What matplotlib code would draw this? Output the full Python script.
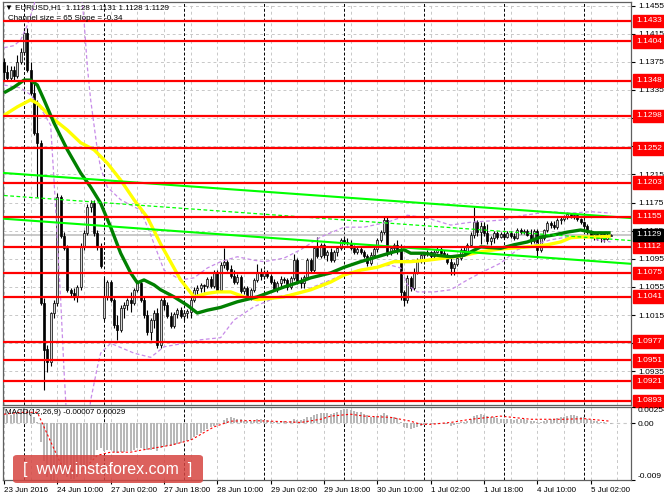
import matplotlib
matplotlib.use('Agg')
import matplotlib.pyplot as plt
import matplotlib.transforms as mtransforms
from matplotlib.patches import FancyBboxPatch
import numpy as np

plt.rcParams['font.family'] = ['Liberation Sans', 'DejaVu Sans']

# EURUSD H1, 23 Jun 2016 18:00 .. 5 Jul 2016 08:00 (one entry per bar)
opens = [1.1375, 1.1361, 1.1352, 1.1363, 1.1355, 1.1375, 1.1389, 1.1416, 1.1363, 1.1331,
         1.1274, 1.1260, 1.1032, 1.0966, 1.0948, 1.1018, 1.1032, 1.1183, 1.1127, 1.1110,
         1.1051, 1.1046, 1.1042, 1.1055, 1.1112, 1.1132, 1.1169, 1.1174, 1.1132, 1.1112,
         1.1011, 1.1041, 1.1062, 1.1037, 1.1001, 1.0994, 1.1025, 1.1029, 1.1037, 1.1032,
         1.1051, 1.1061, 1.1037, 1.1015, 1.0991, 1.1008, 1.1018, 1.0973, 1.1037, 1.1029,
         1.1014, 1.1000, 1.1017, 1.1022, 1.1014, 1.1018, 1.1020, 1.1037, 1.1051, 1.1054,
         1.1058, 1.1056, 1.1066, 1.1056, 1.1075, 1.1051, 1.1086, 1.1091, 1.1081, 1.1071,
         1.1062, 1.1069, 1.1049, 1.1054, 1.1041, 1.1051, 1.1065, 1.1076, 1.1071, 1.1075,
         1.1071, 1.1062, 1.1052, 1.1061, 1.1066, 1.1065, 1.1055, 1.1068, 1.1093, 1.1064,
         1.1061, 1.1069, 1.1093, 1.1079, 1.1110, 1.1099, 1.1115, 1.1100, 1.1105, 1.1093,
         1.1105, 1.1110, 1.1122, 1.1119, 1.1118, 1.1110, 1.1105, 1.1109, 1.1105, 1.1099,
         1.1089, 1.1100, 1.1109, 1.1122, 1.1133, 1.1150, 1.1105, 1.1110, 1.1115, 1.1108,
         1.1048, 1.1037, 1.1068, 1.1054, 1.1076, 1.1092, 1.1100, 1.1102, 1.1105, 1.1099,
         1.1105, 1.1109, 1.1103, 1.1099, 1.1091, 1.1082, 1.1088, 1.1096, 1.1108, 1.1105,
         1.1115, 1.1129, 1.1147, 1.1133, 1.1142, 1.1132, 1.1120, 1.1125, 1.1132, 1.1126,
         1.1130, 1.1126, 1.1132, 1.1127, 1.1125, 1.1136, 1.1133, 1.1135, 1.1129, 1.1120,
         1.1135, 1.1108, 1.1125, 1.1136, 1.1146, 1.1143, 1.1140, 1.1150, 1.1152, 1.1154,
         1.1159, 1.1156, 1.1157, 1.1152, 1.1147, 1.1142, 1.1133, 1.1127, 1.1130, 1.1125,
         1.1130, 1.1123, 1.1128]
highs = [1.1380, 1.1370, 1.1369, 1.1369, 1.1385, 1.1395, 1.1423, 1.1423, 1.1375, 1.1346,
         1.1321, 1.1264, 1.1039, 1.0973, 1.1020, 1.1037, 1.1189, 1.1186, 1.1133, 1.1115,
         1.1054, 1.1054, 1.1058, 1.1118, 1.1136, 1.1173, 1.1179, 1.1179, 1.1136, 1.1118,
         1.1068, 1.1065, 1.1065, 1.1039, 1.1015, 1.1029, 1.1034, 1.1039, 1.1048, 1.1054,
         1.1065, 1.1064, 1.1042, 1.1022, 1.1011, 1.1022, 1.1025, 1.1039, 1.1042, 1.1034,
         1.1020, 1.1020, 1.1025, 1.1026, 1.1022, 1.1024, 1.1041, 1.1055, 1.1058, 1.1061,
         1.1059, 1.1069, 1.1071, 1.1079, 1.1079, 1.1091, 1.1110, 1.1093, 1.1086, 1.1079,
         1.1073, 1.1072, 1.1056, 1.1056, 1.1054, 1.1068, 1.1088, 1.1082, 1.1079, 1.1079,
         1.1073, 1.1066, 1.1064, 1.1071, 1.1069, 1.1068, 1.1071, 1.1102, 1.1096, 1.1069,
         1.1072, 1.1096, 1.1096, 1.1113, 1.1126, 1.1118, 1.1118, 1.1108, 1.1110, 1.1108,
         1.1113, 1.1125, 1.1127, 1.1125, 1.1122, 1.1115, 1.1112, 1.1113, 1.1108, 1.1102,
         1.1105, 1.1113, 1.1125, 1.1136, 1.1154, 1.1154, 1.1113, 1.1118, 1.1122, 1.1116,
         1.1051, 1.1072, 1.1071, 1.1082, 1.1096, 1.1105, 1.1105, 1.1108, 1.1106, 1.1108,
         1.1112, 1.1112, 1.1108, 1.1103, 1.1096, 1.1091, 1.1100, 1.1110, 1.1113, 1.1118,
         1.1133, 1.1169, 1.1150, 1.1147, 1.1147, 1.1145, 1.1127, 1.1135, 1.1135, 1.1133,
         1.1133, 1.1135, 1.1135, 1.1132, 1.1139, 1.1139, 1.1137, 1.1137, 1.1137, 1.1137,
         1.1137, 1.1127, 1.1137, 1.1149, 1.1149, 1.1149, 1.1153, 1.1154, 1.1157, 1.1162,
         1.1160, 1.1160, 1.1159, 1.1153, 1.1149, 1.1145, 1.1136, 1.1133, 1.1133, 1.1132,
         1.1133, 1.1132, 1.1131]
lows = [1.1349, 1.1348, 1.1349, 1.1349, 1.1352, 1.1372, 1.1385, 1.1361, 1.1328, 1.1271,
        1.1183, 1.1029, 1.0909, 1.0934, 1.0943, 1.1011, 1.1028, 1.1125, 1.1108, 1.1048,
        1.1041, 1.1037, 1.1034, 1.1051, 1.1108, 1.1129, 1.1162, 1.1127, 1.1108, 1.1082,
        1.1008, 1.1037, 1.1034, 1.0997, 1.0980, 1.0991, 1.1011, 1.1022, 1.1020, 1.1029,
        1.1048, 1.1034, 1.1011, 1.0987, 1.0980, 1.0997, 1.0968, 1.0968, 1.1022, 1.1011,
        1.0997, 1.0997, 1.1011, 1.1011, 1.1008, 1.1011, 1.1011, 1.1034, 1.1042, 1.1048,
        1.1048, 1.1054, 1.1054, 1.1054, 1.1048, 1.1048, 1.1082, 1.1078, 1.1068, 1.1059,
        1.1059, 1.1046, 1.1045, 1.1038, 1.1037, 1.1048, 1.1062, 1.1065, 1.1066, 1.1068,
        1.1059, 1.1049, 1.1048, 1.1054, 1.1061, 1.1051, 1.1052, 1.1065, 1.1059, 1.1054,
        1.1054, 1.1066, 1.1076, 1.1076, 1.1096, 1.1096, 1.1096, 1.1092, 1.1091, 1.1091,
        1.1099, 1.1108, 1.1116, 1.1115, 1.1108, 1.1102, 1.1102, 1.1102, 1.1096, 1.1085,
        1.1086, 1.1098, 1.1105, 1.1119, 1.1130, 1.1099, 1.1100, 1.1105, 1.1102, 1.1037,
        1.1028, 1.1032, 1.1049, 1.1051, 1.1073, 1.1089, 1.1096, 1.1099, 1.1096, 1.1096,
        1.1103, 1.1099, 1.1096, 1.1088, 1.1072, 1.1072, 1.1085, 1.1093, 1.1100, 1.1102,
        1.1112, 1.1125, 1.1127, 1.1116, 1.1127, 1.1116, 1.1115, 1.1118, 1.1123, 1.1125,
        1.1123, 1.1125, 1.1125, 1.1122, 1.1123, 1.1130, 1.1130, 1.1127, 1.1116, 1.1118,
        1.1096, 1.1105, 1.1122, 1.1133, 1.1139, 1.1137, 1.1137, 1.1145, 1.1149, 1.1152,
        1.1153, 1.1152, 1.1149, 1.1145, 1.1139, 1.1130, 1.1125, 1.1122, 1.1122, 1.1119,
        1.1119, 1.1122, 1.1128]
closes = [1.1361, 1.1352, 1.1363, 1.1355, 1.1375, 1.1389, 1.1416, 1.1363, 1.1331, 1.1274,
          1.1260, 1.1032, 1.0966, 1.0948, 1.1018, 1.1032, 1.1183, 1.1127, 1.1110, 1.1051,
          1.1046, 1.1042, 1.1055, 1.1112, 1.1132, 1.1169, 1.1174, 1.1132, 1.1112, 1.1085,
          1.1041, 1.1062, 1.1037, 1.1001, 1.0994, 1.1025, 1.1029, 1.1037, 1.1032, 1.1051,
          1.1061, 1.1037, 1.1015, 1.0991, 1.1008, 1.1018, 1.0973, 1.1037, 1.1029, 1.1014,
          1.1000, 1.1017, 1.1022, 1.1014, 1.1018, 1.1020, 1.1037, 1.1051, 1.1054, 1.1058,
          1.1056, 1.1066, 1.1056, 1.1075, 1.1051, 1.1086, 1.1091, 1.1081, 1.1071, 1.1062,
          1.1069, 1.1049, 1.1054, 1.1041, 1.1051, 1.1065, 1.1076, 1.1071, 1.1075, 1.1071,
          1.1062, 1.1052, 1.1061, 1.1066, 1.1065, 1.1055, 1.1068, 1.1093, 1.1064, 1.1061,
          1.1069, 1.1093, 1.1079, 1.1110, 1.1099, 1.1115, 1.1100, 1.1105, 1.1093, 1.1105,
          1.1110, 1.1122, 1.1119, 1.1118, 1.1110, 1.1105, 1.1109, 1.1105, 1.1099, 1.1089,
          1.1100, 1.1109, 1.1122, 1.1133, 1.1150, 1.1105, 1.1110, 1.1115, 1.1108, 1.1048,
          1.1037, 1.1068, 1.1054, 1.1076, 1.1092, 1.1100, 1.1102, 1.1105, 1.1099, 1.1105,
          1.1109, 1.1103, 1.1099, 1.1091, 1.1082, 1.1088, 1.1096, 1.1108, 1.1105, 1.1115,
          1.1129, 1.1147, 1.1133, 1.1142, 1.1132, 1.1120, 1.1125, 1.1132, 1.1126, 1.1130,
          1.1126, 1.1132, 1.1127, 1.1125, 1.1136, 1.1133, 1.1135, 1.1129, 1.1120, 1.1135,
          1.1108, 1.1125, 1.1136, 1.1146, 1.1143, 1.1140, 1.1150, 1.1152, 1.1154, 1.1159,
          1.1156, 1.1157, 1.1152, 1.1147, 1.1142, 1.1133, 1.1127, 1.1130, 1.1125, 1.1130,
          1.1123, 1.1129, 1.1129]

# moving averages (bar index, price)
green_bars = [0, 3, 6, 8, 10, 12, 15, 19, 23, 26, 29, 32, 35, 38, 40, 42, 45, 47, 51, 55,
              58, 61, 65, 70, 76, 80, 84, 88, 92, 98, 102, 107, 112, 117, 120, 122, 126, 130,
              134, 138, 143, 149, 153, 157, 161, 165, 169, 173, 177, 182]
green_vals = [1.1331, 1.1339, 1.1349, 1.1349, 1.1342, 1.1321, 1.1288, 1.1250, 1.1217, 1.1197,
              1.1174, 1.1140, 1.1103, 1.1075, 1.1061, 1.1065, 1.1058, 1.1051, 1.1041, 1.1029,
              1.1018, 1.1022, 1.1026, 1.1034, 1.1041, 1.1048, 1.1055, 1.1061, 1.1068, 1.1075,
              1.1083, 1.1091, 1.1098, 1.1105, 1.1108, 1.1103, 1.1103, 1.1100, 1.1098, 1.1100,
              1.1112, 1.1110, 1.1115, 1.1119, 1.1126, 1.1129, 1.1133, 1.1136, 1.1132, 1.1132]
yellow_bars = [0, 4, 8, 10, 14, 19, 23, 27, 31, 35, 39, 43, 47, 53, 57, 61, 64, 68, 72, 76,
               80, 84, 88, 92, 98, 102, 107, 112, 117, 122, 127, 132, 138, 143, 149, 157, 163,
               167, 170, 173, 177, 182]
yellow_vals = [1.1299, 1.1311, 1.1321, 1.1316, 1.1297, 1.1278, 1.1260, 1.1250, 1.1231, 1.1207,
               1.1179, 1.1154, 1.1116, 1.1065, 1.1041, 1.1046, 1.1048, 1.1048, 1.1041, 1.1037,
               1.1039, 1.1041, 1.1046, 1.1051, 1.1062, 1.1072, 1.1079, 1.1083, 1.1091, 1.1091,
               1.1093, 1.1096, 1.1100, 1.1105, 1.1109, 1.1112, 1.1115, 1.1119, 1.1125, 1.1126,
               1.1126, 1.1127]

# envelope bands (purple dotted)
ub_bars = [0, 3, 5, 7, 9, 10, 23, 24, 25, 26, 28, 29, 31, 35, 41, 44, 48, 53, 57, 61,
           65, 70, 75, 78, 84, 89, 95, 102, 108, 115, 121, 127, 134, 140, 149, 156, 164, 170,
           176, 182]
ub_vals = [1.1395, 1.1398, 1.1406, 1.1427, 1.1455, 1.1480, 1.1480, 1.1434, 1.1368, 1.1321,
           1.1250, 1.1224, 1.1197, 1.1179, 1.1164, 1.1129, 1.1079, 1.1065, 1.1068, 1.1082,
           1.1091, 1.1098, 1.1093, 1.1091, 1.1096, 1.1108, 1.1126, 1.1140, 1.1140, 1.1147,
           1.1157, 1.1153, 1.1143, 1.1147, 1.1150, 1.1157, 1.1162, 1.1160, 1.1162, 1.1160]
lb_bars = [0, 5, 8, 11, 14, 15, 17, 18, 19, 25, 26, 28, 29, 32, 39, 44, 48, 54, 59, 65,
           69, 75, 82, 88, 98, 103, 110, 116, 119, 121, 124, 129, 134, 139, 143, 149, 154,
           159, 164, 169, 175, 178, 182]
lb_vals = [1.1342, 1.1338, 1.1328, 1.1309, 1.1285, 1.1207, 1.1037, 1.0937, 1.0850, 1.0850,
           1.0894, 1.0941, 1.0961, 1.0975, 1.0961, 1.0955, 1.0970, 1.0975, 1.0980, 1.0983,
           1.1008, 1.1027, 1.1041, 1.1046, 1.1065, 1.1075, 1.1083, 1.1086, 1.1082, 1.1058,
           1.1048, 1.1048, 1.1051, 1.1065, 1.1075, 1.1089, 1.1108, 1.1115, 1.1122, 1.1126,
           1.1127, 1.1122, 1.1119]

# regression channel (two anchor points)
chan_bars = [0, 188]
chan_upper = [1.1217, 1.1153]
chan_mid = [1.1185, 1.1121]
chan_lower = [1.1152, 1.1088]

levels = [1.1433, 1.1404, 1.1348, 1.1298, 1.1252, 1.1203, 1.1155, 1.1112,
          1.1075, 1.1041, 1.0977, 1.0951, 1.0921, 1.0893]
bid = 1.1129
price_ticks = [1.0935, 1.0975, 1.1015, 1.1055, 1.1095, 1.1135, 1.1175,
               1.1215, 1.1255, 1.1295, 1.1335, 1.1375, 1.1415, 1.1455]

# MACD(12,26,9)
macd_main = [0.0012, 0.0014, 0.0013, 0.0015, 0.0017, 0.0020, 0.0024, 0.0022, 0.0018, 0.0010,
             0.0002, -0.0030, -0.0060, -0.0085, -0.0090, -0.0090, -0.0080, -0.0080, -0.0082, -0.0085,
             -0.0088, -0.0088, -0.0085, -0.0078, -0.0070, -0.0064, -0.0058, -0.0053, -0.0042, -0.0040,
             -0.0044, -0.0042, -0.0043, -0.0046, -0.0048, -0.0046, -0.0045, -0.0044, -0.0044, -0.0042,
             -0.0040, -0.0040, -0.0041, -0.0043, -0.0042, -0.0041, -0.0044, -0.0040, -0.0038, -0.0037,
             -0.0037, -0.0035, -0.0033, -0.0032, -0.0030, -0.0029, -0.0026, -0.0022, -0.0019, -0.0016,
             -0.0013, -0.0009, -0.0007, -0.0004, -0.0003, 0.0000, 0.0005, 0.0008, 0.0009, 0.0008,
             0.0007, 0.0006, 0.0004, 0.0003, 0.0003, 0.0004, 0.0006, 0.0006, 0.0005, 0.0005,
             0.0004, 0.0002, 0.0002, 0.0003, 0.0003, 0.0002, 0.0003, 0.0007, 0.0005, 0.0005,
             0.0006, 0.0009, 0.0009, 0.0013, 0.0014, 0.0016, 0.0016, 0.0016, 0.0015, 0.0016,
             0.0018, 0.0021, 0.0022, 0.0022, 0.0021, 0.0019, 0.0018, 0.0017, 0.0015, 0.0012,
             0.0010, 0.0010, 0.0011, 0.0013, 0.0016, 0.0012, 0.0010, 0.0009, 0.0008, 0.0002,
             -0.0006, -0.0008, -0.0009, -0.0008, -0.0006, -0.0004, -0.0003, -0.0002, -0.0002, -0.0001,
             0.0000, 0.0000, -0.0001, -0.0002, -0.0004, -0.0003, -0.0001, 0.0001, 0.0002, 0.0004,
             0.0007, 0.0011, 0.0012, 0.0014, 0.0013, 0.0011, 0.0010, 0.0009, 0.0008, 0.0007,
             0.0006, 0.0006, 0.0006, 0.0005, 0.0006, 0.0006, 0.0006, 0.0005, 0.0004, 0.0004,
             0.0002, 0.0002, 0.0003, 0.0005, 0.0006, 0.0006, 0.0008, 0.0009, 0.0010, 0.0011,
             0.0012, 0.0012, 0.0011, 0.0010, 0.0009, 0.0007, 0.0005, 0.0004, 0.0003, 0.0002,
             0.0001, 0.0000, -0.00007]
sig_bars = [0, 5, 10, 17, 22, 26, 28, 32, 38, 41, 50, 56, 63, 68, 74, 80, 89, 95, 98, 104,
            108, 116, 122, 125, 128, 134, 140, 149, 158, 168, 174, 182]
sig_vals = [0.0014, 0.0017, 0.0017, -0.0064, -0.0079, -0.0062, -0.0051, -0.0046, -0.0046, -0.0043,
            -0.0035, -0.0027, -0.0006, 0.0003, 0.0004, 0.0003, 0.0001, 0.0006, 0.0011, 0.0014,
            0.0011, 0.0009, 0.0003, -0.0002, -0.0002, 0.0001, 0.0006, 0.0011, 0.0006, 0.0006,
            0.0007, 0.00029]

time_bars = [0, 16, 32, 48, 64, 80, 96, 112, 128, 144, 160, 176]
time_labels = ['23 Jun 2016', '24 Jun 10:00', '27 Jun 02:00', '27 Jun 18:00', '28 Jun 10:00',
               '29 Jun 02:00', '29 Jun 18:00', '30 Jun 10:00', '1 Jul 02:00', '1 Jul 18:00',
               '4 Jul 10:00', '5 Jul 02:00']
day_bars = [6, 30, 54, 78, 102, 126, 150, 174]

W, H = 664, 498
fig = plt.figure(figsize=(W / 100, H / 100), dpi=100)
ax = fig.add_axes([3 / W, 93 / H, 628 / W, 403 / H])
axm = fig.add_axes([3 / W, 18 / H, 628 / W, 73 / H])

o = np.array(opens)
c = np.array(closes)
idx = np.arange(len(c))
xlim = (-0.3, 188.1)
grid_c = '#c8c8c8'
fs = 6.0  # small chart font

for a in (ax, axm):
    a.set_xlim(*xlim)
    for b in range(0, 189, 8):
        a.axvline(b, color=grid_c, lw=0.7, ls=(0, (3, 3)), zorder=0)
    for b in day_bars:
        a.axvline(b, color='black', lw=0.7, ls=(0, (3, 2)), zorder=1)
    for s in a.spines.values():
        s.set_color('#606060')
        s.set_linewidth(0.9)
    a.yaxis.tick_right()
    a.tick_params(axis='y', direction='out', length=3, pad=2, labelsize=fs, colors='black')

# main price panel
ax.set_ylim(1.08873, 1.14600)
for p in price_ticks:
    ax.axhline(p, color=grid_c, lw=0.7, ls=(0, (3, 3)), zorder=0)
ax.set_yticks(price_ticks)
ax.set_yticklabels([f'{p:.4f}' for p in price_ticks])
ax.set_xticks([])
ax.axhline(bid, color='#c0c0c0', lw=1.2, zorder=1)

ax.vlines(idx, lows, highs, color='black', lw=0.8, zorder=2)
face = np.where(c >= o, '#d4d4d4', 'black')
ax.bar(idx, np.abs(c - o) + 0.00002, bottom=np.minimum(o, c), width=0.62,
       color=face, edgecolor='black', linewidth=0.5, zorder=3)

ax.plot(ub_bars, ub_vals, color='#c78be8', lw=0.9, ls=(0, (3, 2)), zorder=4)
ax.plot(lb_bars, lb_vals, color='#c78be8', lw=0.9, ls=(0, (3, 2)), zorder=4)
ax.plot(yellow_bars, yellow_vals, color='#ffff00', lw=2.4, zorder=5, solid_capstyle='butt')
ax.plot(green_bars, green_vals, color='#008000', lw=2.4, zorder=5, solid_capstyle='butt')

ax.plot(chan_bars, chan_upper, color='#00ff00', lw=1.5, zorder=6)
ax.plot(chan_bars, chan_lower, color='#00ff00', lw=1.5, zorder=6)
ax.plot(chan_bars, chan_mid, color='#00ff00', lw=0.9, ls=(0, (3, 2)), zorder=6)

for lv in levels:
    ax.axhline(lv, color='red', lw=1.6, zorder=7)

blend = mtransforms.blended_transform_factory(ax.transAxes, ax.transData)
for lv in levels:
    ax.text(1.008, lv, f'{lv:.4f}', transform=blend, ha='left', va='center',
            color='white', fontsize=fs, clip_on=False, zorder=10,
            bbox=dict(boxstyle='square,pad=0.35', fc='red', ec='red'))
ax.text(1.008, bid, f'{bid:.4f}', transform=blend, ha='left', va='center',
        color='white', fontsize=fs, clip_on=False, zorder=10,
        bbox=dict(boxstyle='square,pad=0.35', fc='black', ec='black'))

fig.text(5 / W, 1 - 8 / H, '\u25bc EURUSD,H1  1.1128 1.1131 1.1128 1.1129',
         fontsize=5.8, va='center', ha='left')
fig.text(8 / W, 1 - 19 / H, 'Channel size = 65 Slope = -0.34',
         fontsize=5.8, va='center', ha='left')

# MACD panel
axm.set_ylim(-0.009, 0.00254)
axm.axhline(0, color=grid_c, lw=0.8, ls=(0, (3, 3)), zorder=0)
axm.bar(idx, macd_main, width=0.6, color='#b8b8b8', zorder=2)
axm.plot(sig_bars, sig_vals, color='red', lw=0.8, ls=(0, (2, 2)), zorder=3)
axm.set_yticks([-0.009, 0.0, 0.00254])
axm.set_yticklabels(['-0.009', '0.00', '0.00254'])
ylabs = axm.get_yticklabels()
ylabs[0].set_va('bottom')
ylabs[2].set_va('top')
axm.set_xticks(time_bars)
axm.set_xticklabels(time_labels)
axm.tick_params(axis='x', direction='out', length=3, pad=2, labelsize=5.8, colors='black')
for t in axm.get_xticklabels():
    t.set_ha('left')
fig.text(5 / W, 1 - 412 / H, 'MACD(12,26,9) -0.00007 0.00029',
         fontsize=5.8, va='center', ha='left')

# watermark box
fig.patches.append(FancyBboxPatch((13 / W, 15 / H), 190 / W, 28 / H,
                                  boxstyle='round,pad=0,rounding_size=0.006',
                                  transform=fig.transFigure, fc='#d64541', ec='none',
                                  alpha=0.85, zorder=5))
fig.text(108 / W, 29 / H, '[  www.instaforex.com  ]', color='white', fontsize=11.5,
         ha='center', va='center', zorder=6)

fig.savefig('out.png', dpi=100)
